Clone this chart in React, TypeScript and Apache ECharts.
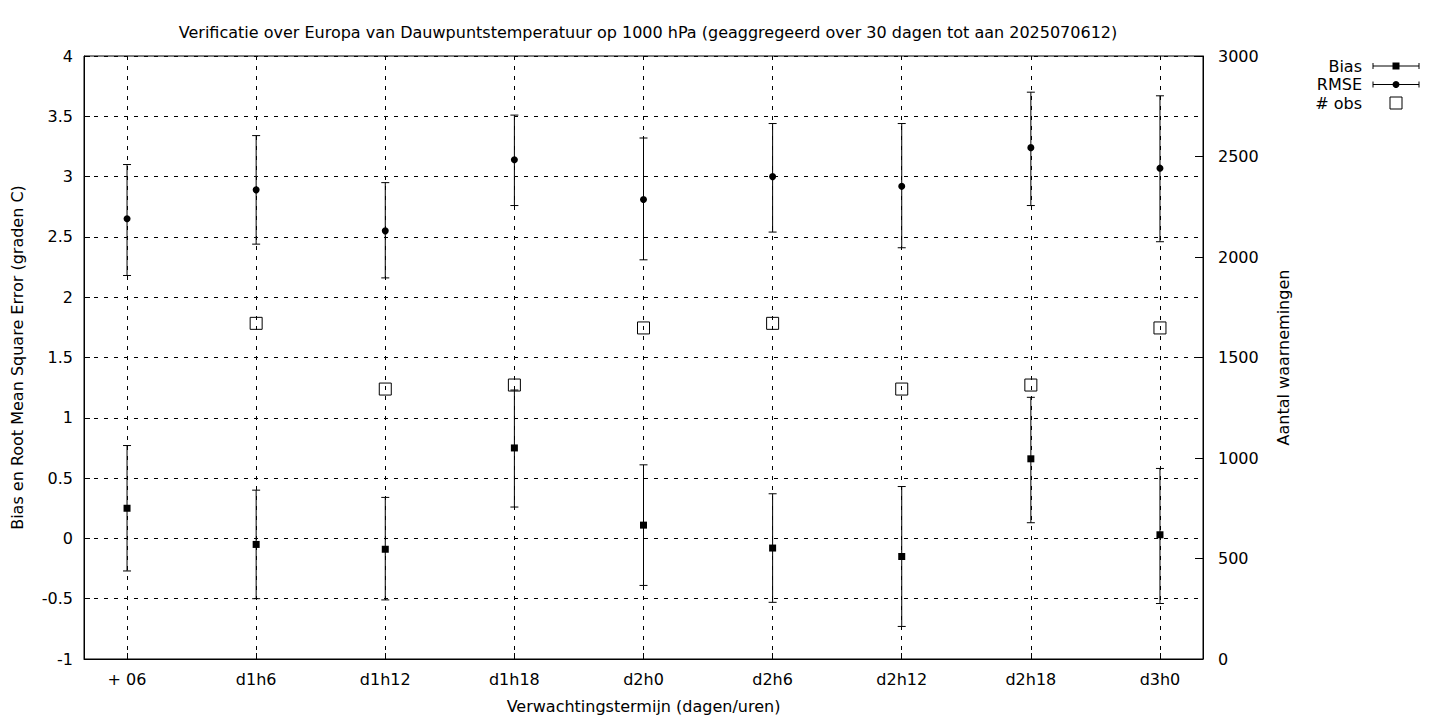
import React, { useEffect, useRef } from "react";
import * as echarts from "echarts";

const categories = ["+ 06", "d1h6", "d1h12", "d1h18", "d2h0", "d2h6", "d2h12", "d2h18", "d3h0"];

const biasValues = [0.25, -0.05, -0.09, 0.75, 0.11, -0.08, -0.15, 0.66, 0.03];
const biasLow = [-0.27, -0.5, -0.51, 0.26, -0.39, -0.53, -0.73, 0.13, -0.54];
const biasHigh = [0.77, 0.4, 0.34, 1.23, 0.61, 0.37, 0.43, 1.17, 0.58];

const rmseValues = [2.65, 2.89, 2.55, 3.14, 2.81, 3.0, 2.92, 3.24, 3.07];
const rmseLow = [2.18, 2.44, 2.16, 2.76, 2.31, 2.54, 2.41, 2.76, 2.46];
const rmseHigh = [3.1, 3.34, 2.95, 3.51, 3.32, 3.44, 3.44, 3.7, 3.67];

const obsCounts: (number | null)[] = [null, 1670, 1343, 1363, 1647, 1670, 1343, 1363, 1647];

const leftTicks = { min: -1, max: 4, interval: 0.5 };
const rightTicks = { min: 0, max: 3000, interval: 500 };

const titleText =
  "Verificatie over Europa van Dauwpuntstemperatuur op 1000 hPa (geaggregeerd over 30 dagen tot aan 2025070612)";

const FONT = "DejaVu Sans";
const FS = 16;

function errorBarRender(params: any, api: any) {
  const x = api.value(0);
  const lo = api.coord([x, api.value(1)]);
  const hi = api.coord([x, api.value(2)]);
  const px = lo[0];
  const cap = 4;
  const style = { stroke: "#000", lineWidth: 1 };
  return {
    type: "group",
    children: [
      { type: "line", shape: { x1: px, y1: lo[1], x2: px, y2: hi[1] }, style },
      { type: "line", shape: { x1: px - cap, y1: lo[1], x2: px + cap, y2: lo[1] }, style },
      { type: "line", shape: { x1: px - cap, y1: hi[1], x2: px + cap, y2: hi[1] }, style },
    ],
  };
}

export default function App() {
  const ref = useRef<HTMLDivElement>(null);

  useEffect(() => {
    if (!ref.current) return;
    const chart = echarts.init(ref.current, undefined, { renderer: "svg" });
    const idx = categories.map((_, i) => i);

    const legendRows = [
      { name: "Bias", y: 66, marker: "square" },
      { name: "RMSE", y: 84.5, marker: "circle" },
      { name: "# obs", y: 103, marker: "open" },
    ];
    const legendEls: any[] = [];
    legendRows.forEach((r) => {
      legendEls.push({
        type: "text",
        x: 1362,
        y: r.y,
        style: { text: r.name, font: `${FS}px "${FONT}"`, fill: "#000", align: "right", verticalAlign: "middle" },
      });
      const ls = { stroke: "#000", lineWidth: 1 };
      if (r.marker !== "open") {
        legendEls.push({ type: "line", shape: { x1: 1373, y1: r.y, x2: 1419, y2: r.y }, style: ls });
        legendEls.push({ type: "line", shape: { x1: 1373, y1: r.y - 3, x2: 1373, y2: r.y + 3 }, style: ls });
        legendEls.push({ type: "line", shape: { x1: 1419, y1: r.y - 3, x2: 1419, y2: r.y + 3 }, style: ls });
        if (r.marker === "square") {
          legendEls.push({ type: "rect", shape: { x: 1392.5, y: r.y - 3.5, width: 7, height: 7 }, style: { fill: "#000" } });
        } else {
          legendEls.push({ type: "circle", shape: { cx: 1396, cy: r.y, r: 3.5 }, style: { fill: "#000" } });
        }
      } else {
        legendEls.push({
          type: "rect",
          shape: { x: 1390, y: r.y - 6, width: 12, height: 12 },
          style: { fill: "none", stroke: "#000", lineWidth: 1 },
        });
      }
    });

    chart.setOption({
      animation: false,
      backgroundColor: "#fff",
      textStyle: { fontFamily: FONT, fontSize: FS, color: "#000" },
      title: {
        text: titleText,
        left: 643,
        textAlign: "center",
        top: 19,
        textStyle: { fontFamily: FONT, fontSize: FS, fontWeight: "normal", color: "#000" },
      },
      grid: {
        left: 84,
        right: 237,
        top: 56,
        bottom: 61,
        show: true,
        borderColor: "#000",
        borderWidth: 1,
        backgroundColor: "transparent",
      },
      xAxis: {
        type: "value",
        min: -1 / 3,
        max: 25 / 3,
        name: "Verwachtingstermijn (dagen/uren)",
        nameLocation: "middle",
        nameGap: 39,
        nameTextStyle: { fontFamily: FONT, fontSize: FS, color: "#000" },
        axisLine: { show: true, onZero: false, lineStyle: { color: "#000" } },
        axisTick: { show: true, inside: true, length: 6, customValues: idx, lineStyle: { color: "#000" } },
        axisLabel: {
          customValues: idx,
          margin: 12,
          fontFamily: FONT,
          fontSize: FS,
          color: "#000",
          formatter: (v: number) => categories[Math.round(v)] ?? "",
        },
        splitLine: { show: true, lineStyle: { color: "#000", type: [4, 6], width: 1 } },
      },
      yAxis: [
        {
          type: "value",
          ...leftTicks,
          name: "Bias en Root Mean Square Error (graden C)",
          nameLocation: "middle",
          nameRotate: 90,
          nameGap: 59,
          nameTextStyle: { fontFamily: FONT, fontSize: FS, color: "#000" },
          axisLine: { show: true, onZero: false, lineStyle: { color: "#000" } },
          axisTick: { show: true, inside: true, length: 6, lineStyle: { color: "#000" } },
          axisLabel: { margin: 11, fontFamily: FONT, fontSize: FS, color: "#000", formatter: (v: number) => String(v) },
          splitLine: { show: true, lineStyle: { color: "#000", type: [4, 6], width: 1 } },
        },
        {
          type: "value",
          ...rightTicks,
          position: "right",
          name: "Aantal waarnemingen",
          nameLocation: "middle",
          nameRotate: 90,
          nameGap: 72,
          nameTextStyle: { fontFamily: FONT, fontSize: FS, color: "#000" },
          axisLine: { show: true, onZero: false, lineStyle: { color: "#000" } },
          axisTick: { show: true, inside: true, length: 8, lineStyle: { color: "#000" } },
          axisLabel: { margin: 15, fontFamily: FONT, fontSize: FS, color: "#000", formatter: (v: number) => String(v) },
          splitLine: { show: false },
        },
      ],
      graphic: legendEls,
      series: [
        {
          name: "Bias err",
          type: "custom",
          renderItem: errorBarRender,
          encode: { x: 0, y: [1, 2] },
          data: idx.map((i) => [i, biasLow[i], biasHigh[i]]),
          z: 3,
        },
        {
          name: "Bias",
          type: "scatter",
          symbol: "rect",
          symbolSize: 7,
          itemStyle: { color: "#000", opacity: 1 },
          data: idx.map((i) => [i, biasValues[i]]),
          z: 4,
        },
        {
          name: "RMSE err",
          type: "custom",
          renderItem: errorBarRender,
          encode: { x: 0, y: [1, 2] },
          data: idx.map((i) => [i, rmseLow[i], rmseHigh[i]]),
          z: 3,
        },
        {
          name: "RMSE",
          type: "scatter",
          symbol: "circle",
          symbolSize: 7,
          itemStyle: { color: "#000", opacity: 1 },
          data: idx.map((i) => [i, rmseValues[i]]),
          z: 4,
        },
        {
          name: "# obs",
          type: "scatter",
          yAxisIndex: 1,
          symbol: "rect",
          symbolSize: 12,
          itemStyle: { color: "rgba(0,0,0,0)", borderColor: "#000", borderWidth: 1, opacity: 1 },
          data: idx.filter((i) => obsCounts[i] != null).map((i) => [i, obsCounts[i]]),
          z: 4,
        },
      ],
    });
    return () => chart.dispose();
  }, []);

  return <div ref={ref} style={{ position: "fixed", left: 0, top: 0, width: 1440, height: 720 }} />;
}
